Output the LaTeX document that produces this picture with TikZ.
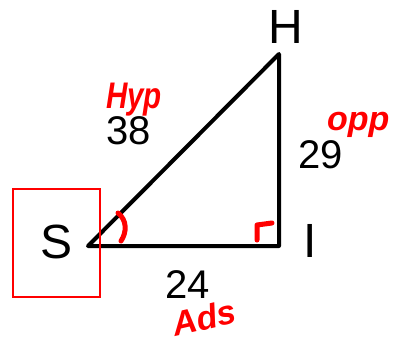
\documentclass[tikz,border=0pt]{standalone}
\usepackage{fontspec}
\setmainfont{Liberation Sans}
\begin{document}
\begin{tikzpicture}[x=1pt,y=-1pt,
  lbl/.style={inner sep=0pt,anchor=base,font=\fontsize{40}{40}\selectfont},
  vlbl/.style={inner sep=0pt,anchor=base,font=\fontsize{48}{48}\selectfont},
  hand/.style={inner sep=0pt,anchor=base west,text=red,font=\fontsize{32}{32}\selectfont\bfseries\itshape},
  side/.style={line width=4pt,line cap=round,line join=round},
  redmark/.style={red,line width=5pt,line cap=round,line join=round}]
\useasboundingbox (0,0) rectangle (397,343);
\coordinate (s) at (88,246);
\coordinate (r) at (279,246);
\coordinate (h) at (279,54);
\draw[side] (s) -- (r) -- (h) -- cycle;
\node[draw=red,line width=2pt,minimum width=87pt,minimum height=108pt,inner sep=0pt] (box) at (56.5,243) {};
\node[vlbl] (S) at (57,258) {S};
\node[vlbl] (H) at (286,43) {H};
\node[vlbl] (I) at (310,257) {I};
\node[lbl] (n38) at (129,144) {38};
\node[lbl] (n29) at (321,168) {29};
\node[lbl] (n24) at (188,298) {24};
\node[hand,xscale=0.8,font=\fontsize{37}{37}\selectfont\bfseries\itshape] (hyp) at (106,108) {Hyp};
\node[hand,font=\fontsize{34}{34}\selectfont\bfseries\itshape] (opp) at (327,130) {opp};
\node[hand,rotate=13,font=\fontsize{34}{34}\selectfont\bfseries\itshape] (ads) at (175,337) {Ads};
\coordinate (a1) at (118,213);
\coordinate (a2) at (121,241);
\draw[redmark] (a1) .. controls (127,220) and (127,232) .. (a2);
\coordinate (m1) at (257,240);
\coordinate (m2) at (257,225);
\coordinate (m3) at (272,223);
\draw[redmark] (m1) -- (m2) -- (m3);
\end{tikzpicture}
\end{document}
